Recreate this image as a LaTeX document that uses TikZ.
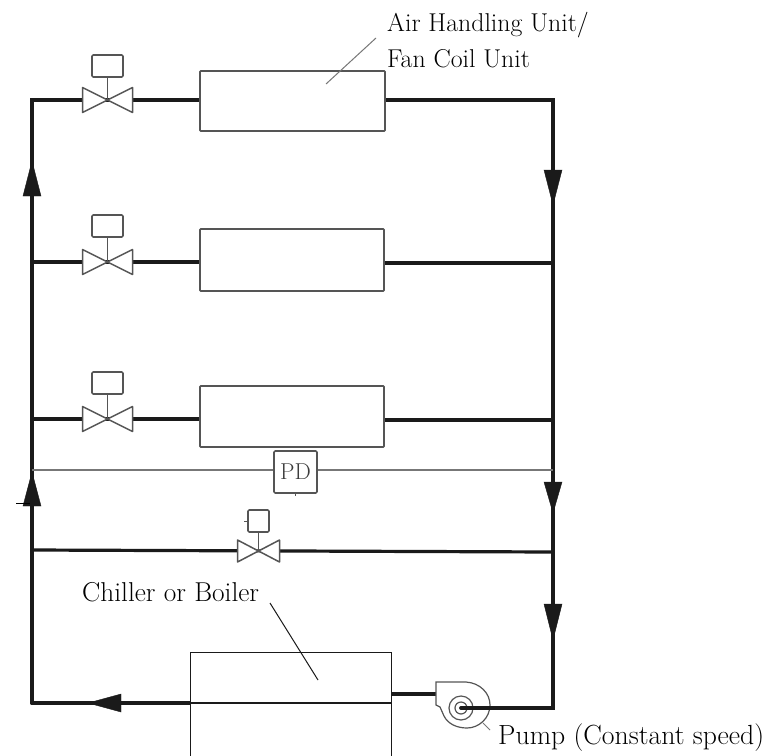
\documentclass[tikz,border=0pt]{standalone}
\usetikzlibrary{calc}
\definecolor{ink}{HTML}{1A1A1A}
\definecolor{soft}{HTML}{555555}
\definecolor{thin}{HTML}{777777}
\tikzset{
  pipe/.style={draw=ink,line width=3.8pt,line cap=round,line join=miter},
  pipeb/.style={draw=ink,line width=3.2pt},
  sense/.style={draw=thin,line width=1.8pt},
  unitbox/.style={draw=soft,line width=1.6pt,fill=white,inner sep=0pt,minimum width=#1,rounded corners=0.8pt},
  actbox/.style={draw=soft,line width=1.6pt,fill=white,inner sep=0pt,rounded corners=1.2pt},
  valveline/.style={draw=soft,line width=1.5pt,fill=white,line join=round},
  leader/.style={draw=thin,line width=1pt},
  flow/.style={fill=ink,draw=ink,line width=0.4pt},
  lbl/.style={inner sep=0pt,anchor=west,text=black,font=\fontsize{#1}{30}\selectfont},
}
% name, x, y, half width, half height, box width, box height, stem
\newcommand{\drawvalve}[8]{%
  \coordinate (#1c) at (#2,#3);
  \coordinate (#1l) at (#2-#4,#3);
  \coordinate (#1r) at (#2+#4,#3);
  \node[actbox,minimum width=#6pt,minimum height=#7pt] (#1a) at (#2,#3-#8) {};
  \draw[soft,line width=1.8pt] (#1a.south) -- (#1c);
  \draw[valveline] (#1c) -- (#2-#4,#3-#5) -- (#2-#4,#3+#5) -- cycle;
  \draw[valveline] (#1c) -- (#2+#4,#3-#5) -- (#2+#4,#3+#5) -- cycle;
}
\begin{document}
\begin{tikzpicture}[x=1pt,y=-1pt]
\useasboundingbox[fill=white] (0,0) rectangle (776,755);
% frame coordinates
\coordinate (tl) at (32,100);
\coordinate (tr) at (553,100);
\coordinate (bl) at (32,703);
\coordinate (br) at (553,708);
\coordinate (l2) at (32,262);
\coordinate (r2) at (553,263);
\coordinate (l3) at (32,419);
\coordinate (r3) at (553,420);
\coordinate (l4) at (32,470);
\coordinate (r4) at (553,470);
\coordinate (l5) at (32,550);
\coordinate (r5) at (553,552);
% main loop
\draw[pipe] (bl) -- (tl) -- (tr) -- (br) -- (461,708);
\draw[pipe] (bl) -- (190,703);
% sensing line
\draw[sense] (l4) -- (r4);
% branches
\draw[pipeb] (l2) -- (200,262);
\draw[pipeb] (384,263) -- (r2);
\draw[pipeb] (l3) -- (200,419);
\draw[pipeb] (384,420) -- (r3);
\draw[pipeb] (l5) -- (r5);
\draw[pipeb] (391,694) -- (436,694);
% units
\node[unitbox=185pt,minimum height=60pt] (u1) at (292.5,101) {};
\node[unitbox=184pt,minimum height=62pt] (u2) at (292,260) {};
\node[unitbox=184pt,minimum height=61pt] (u3) at (292,416.5) {};
% valves
\drawvalve{v1}{107.5}{100}{25}{12.5}{31}{22}{34}
\drawvalve{v2}{107.5}{262}{25}{12.5}{31}{22}{36}
\drawvalve{v3}{107.5}{419}{25}{12.5}{31}{22}{36}
\drawvalve{v4}{258.5}{551}{21}{11}{21}{22}{30}
\draw[soft,line width=1pt] (v4a.west) -- ++(-3.5,0);
% PD
\node[actbox,minimum width=43pt,minimum height=42pt,font=\fontsize{23}{26}\selectfont,text=ink!85] (pd) at (295.5,472) {PD};
\draw[soft,line width=1.5pt] (pd.south) -- ++(0,2.5);
% chiller
\node[draw=ink,line width=1.3pt,fill=white,inner sep=0pt,minimum width=201pt,minimum height=110pt,anchor=north west] (ch) at (190,652) {};
\draw[ink,line width=1.2pt] (190,703) -- (392,703);
% pump
\coordinate (pc) at (461,708);
\draw[soft,line width=1.2pt,fill=white] (436,682) -- (466,682) .. controls (480,683) and (490,693) .. (490,705)
  .. controls (490,718) and (479,728) .. (467,728) .. controls (457,728) and (448,724) .. (444,716)
  -- (440,707) -- (436,705) -- cycle;
\node[circle,draw=soft,line width=1.2pt,minimum size=24pt,inner sep=0pt] (pout) at (pc) {};
\node[circle,draw=soft,line width=1.2pt,minimum size=12pt,inner sep=0pt] (pin) at (pc) {};
\draw[pipe] (pc) -- (br);
% arrows
\fill[flow] (32,161) -- (23,196) -- (41,196) -- cycle;
\fill[flow] (32,472) -- (23,506) -- (41,506) -- cycle;
\fill[flow] (553,205) -- (544,170) -- (562,170) -- cycle;
\fill[flow] (553,513) -- (544,482) -- (562,482) -- cycle;
\fill[flow] (553,640) -- (544,604) -- (562,604) -- cycle;
\fill[flow] (88,703) -- (121,694) -- (121,712) -- cycle;
\draw[thin,line width=1pt] (16,503) -- (30,503);
% labels
\node[lbl=25.8] (t1) at (387,25) {Air Handling Unit/};
\node[lbl=25.8] (t2) at (387,59) {Fan Coil Unit};
\node[lbl=27.3] (t3) at (82,592) {Chiller or Boiler};
\node[lbl=27.7] (t4) at (498,738) {Pump (Constant speed)};
% leaders
\coordinate (a1) at (326,84);
\coordinate (a2) at (376,38);
\draw[leader] (a1) -- (a2);
\coordinate (b1) at (270,603);
\coordinate (b2) at (318,680);
\draw[ink,line width=1pt] (b1) -- (b2);
\coordinate (c1) at (483,723);
\coordinate (c2) at (490,730);
\draw[leader] (c1) -- (c2);
\end{tikzpicture}
\end{document}
